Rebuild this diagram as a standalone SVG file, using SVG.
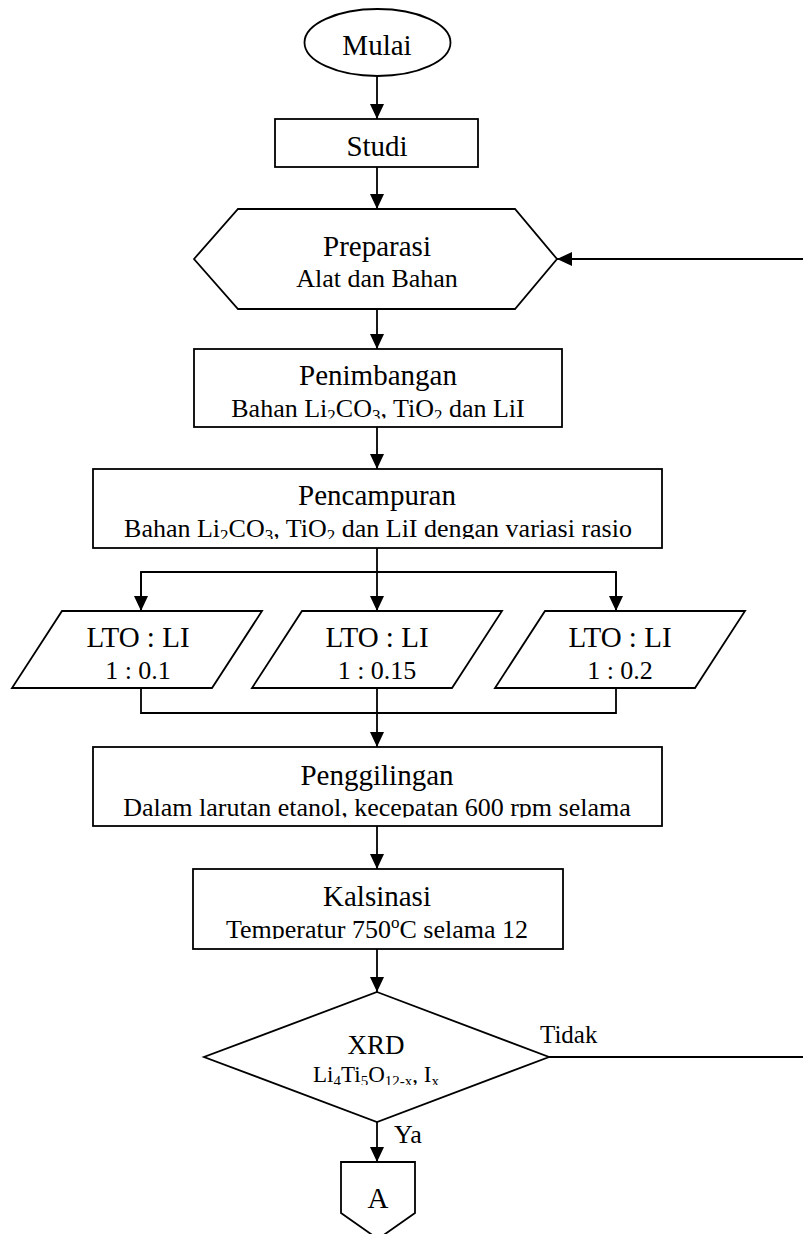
<svg xmlns="http://www.w3.org/2000/svg" width="803" height="1234" viewBox="0 0 803 1234">
<style>
.shape{fill:#fff;stroke:#000;stroke-width:1.8}
.ln{fill:none;stroke:#000;stroke-width:1.8}
.arr{marker-end:url(#ah)}
text{font-family:"Liberation Serif","Times New Roman",serif;fill:#000;text-anchor:middle}
.t{font-size:29px}
.st{font-size:26px}
.s{font-size:17px}
.lbl{font-size:25px;text-anchor:start}
</style>
<defs>
<marker id="ah" markerUnits="userSpaceOnUse" markerWidth="16" markerHeight="15" refX="15" refY="7" orient="auto">
<path d="M0,0 L15,7 L0,14 z" fill="#000"/>
</marker>
<clipPath id="cPen"><rect x="194" y="349" width="368" height="69.5"/></clipPath>
<clipPath id="cPc"><rect x="93" y="469" width="569" height="70"/></clipPath>
<clipPath id="cPar"><rect x="0" y="611" width="803" height="68"/></clipPath>
<clipPath id="cPg"><rect x="93" y="747" width="569" height="70.5"/></clipPath>
<clipPath id="cKa"><rect x="193" y="869" width="370" height="70"/></clipPath>
<clipPath id="cX"><rect x="200" y="992" width="360" height="93"/></clipPath>
</defs>

<g id="connectors">
<line class="ln arr" x1="377" y1="76" x2="377" y2="119"/>
<line class="ln arr" x1="377" y1="167" x2="377" y2="209"/>
<line class="ln arr" x1="803" y1="259" x2="557" y2="259"/>
<line class="ln arr" x1="377" y1="309" x2="377" y2="349"/>
<line class="ln arr" x1="377" y1="427" x2="377" y2="469"/>
<line class="ln" x1="377" y1="548" x2="377" y2="572"/>
<polyline class="ln" points="141,611 141,572 616,572 616,611"/>
<line class="ln arr" x1="141" y1="572" x2="141" y2="611"/>
<line class="ln arr" x1="377" y1="572" x2="377" y2="611"/>
<line class="ln arr" x1="616" y1="572" x2="616" y2="611"/>
<polyline class="ln" points="141,688 141,713 616,713 616,688"/>
<line class="ln" x1="377" y1="688" x2="377" y2="713"/>
<line class="ln arr" x1="377" y1="713" x2="377" y2="747"/>
<line class="ln arr" x1="377" y1="826" x2="377" y2="869"/>
<line class="ln arr" x1="377" y1="949" x2="377" y2="992"/>
<line class="ln" x1="549" y1="1057" x2="803" y2="1057"/>
<line class="ln arr" x1="377" y1="1122" x2="377" y2="1162"/>
<text class="lbl" x="540" y="1043">Tidak</text>
<text class="lbl" x="394" y="1143" style="font-size:26px">Ya</text>
</g>

<g id="mulai">
<ellipse class="shape" cx="377.5" cy="42.5" rx="73" ry="33.5"/>
<text class="t" x="377" y="55">Mulai</text>
</g>

<g id="studi">
<rect class="shape" x="275" y="119" width="203" height="48"/>
<text class="t" x="377" y="156">Studi</text>
</g>

<g id="preparasi">
<polygon class="shape" points="194,259 238,209 515,209 557,259 515,309 238,309"/>
<text class="t" x="377" y="256">Preparasi</text>
<text class="st" x="377" y="287">Alat dan Bahan</text>
</g>

<g id="penimbangan">
<rect class="shape" x="194" y="349" width="368" height="78"/>
<text class="t" x="378" y="385">Penimbangan</text>
<text class="st" x="378" y="416.5" clip-path="url(#cPen)">Bahan Li<tspan class="s" dy="4">2</tspan><tspan dy="-4">CO</tspan><tspan class="s" dy="4">3</tspan><tspan dy="-4">, TiO</tspan><tspan class="s" dy="4">2</tspan><tspan dy="-4"> dan LiI</tspan></text>
</g>

<g id="pencampuran">
<rect class="shape" x="93" y="469" width="569" height="79"/>
<text class="t" x="377" y="505">Pencampuran</text>
<text class="st" x="378" y="537" clip-path="url(#cPc)">Bahan Li<tspan class="s" dy="4">2</tspan><tspan dy="-4">CO</tspan><tspan class="s" dy="4">3</tspan><tspan dy="-4">, TiO</tspan><tspan class="s" dy="4">2</tspan><tspan dy="-4"> dan LiI dengan variasi rasio</tspan></text>
</g>

<g id="rasio1">
<polygon class="shape" points="62,611 262,611 212,688 12,688"/>
<text class="t" x="138" y="647">LTO : LI</text>
<text class="st" x="138" y="679" clip-path="url(#cPar)">1 : 0.1</text>
</g>

<g id="rasio2">
<polygon class="shape" points="302,611 502,611 452,688 252,688"/>
<text class="t" x="377" y="647">LTO : LI</text>
<text class="st" x="377" y="679" clip-path="url(#cPar)">1 : 0.15</text>
</g>

<g id="rasio3">
<polygon class="shape" points="545,611 745,611 695,688 495,688"/>
<text class="t" x="620" y="647">LTO : LI</text>
<text class="st" x="620" y="679" clip-path="url(#cPar)">1 : 0.2</text>
</g>

<g id="penggilingan">
<rect class="shape" x="93" y="747" width="569" height="79"/>
<text class="t" x="377" y="785">Penggilingan</text>
<text class="st" x="377" y="816" clip-path="url(#cPg)">Dalam larutan etanol, kecepatan 600 rpm selama</text>
</g>

<g id="kalsinasi">
<rect class="shape" x="193" y="869" width="370" height="80"/>
<text class="t" x="377" y="906">Kalsinasi</text>
<text class="st" x="377" y="937.5" clip-path="url(#cKa)">Temperatur 750<tspan class="s" dy="-10">o</tspan><tspan dy="10">C selama 12</tspan></text>
</g>

<g id="xrd">
<polygon class="shape" points="377,992 549,1057 377,1122 204,1057"/>
<text x="376" y="1054" style="font-size:27px">XRD</text>
<text x="376" y="1082" style="font-size:23px" clip-path="url(#cX)">Li<tspan style="font-size:15px" dy="4">4</tspan><tspan dy="-4">Ti</tspan><tspan style="font-size:15px" dy="4">5</tspan><tspan dy="-4">O</tspan><tspan style="font-size:15px" dy="4">12-x</tspan><tspan dy="-4">, I</tspan><tspan style="font-size:15px" dy="4">x</tspan></text>
</g>

<g id="offpage-a">
<polygon class="shape" points="341,1162 415,1162 415,1213 378,1239 341,1213"/>
<text x="378" y="1208" style="font-size:29px">A</text>
</g>
</svg>
